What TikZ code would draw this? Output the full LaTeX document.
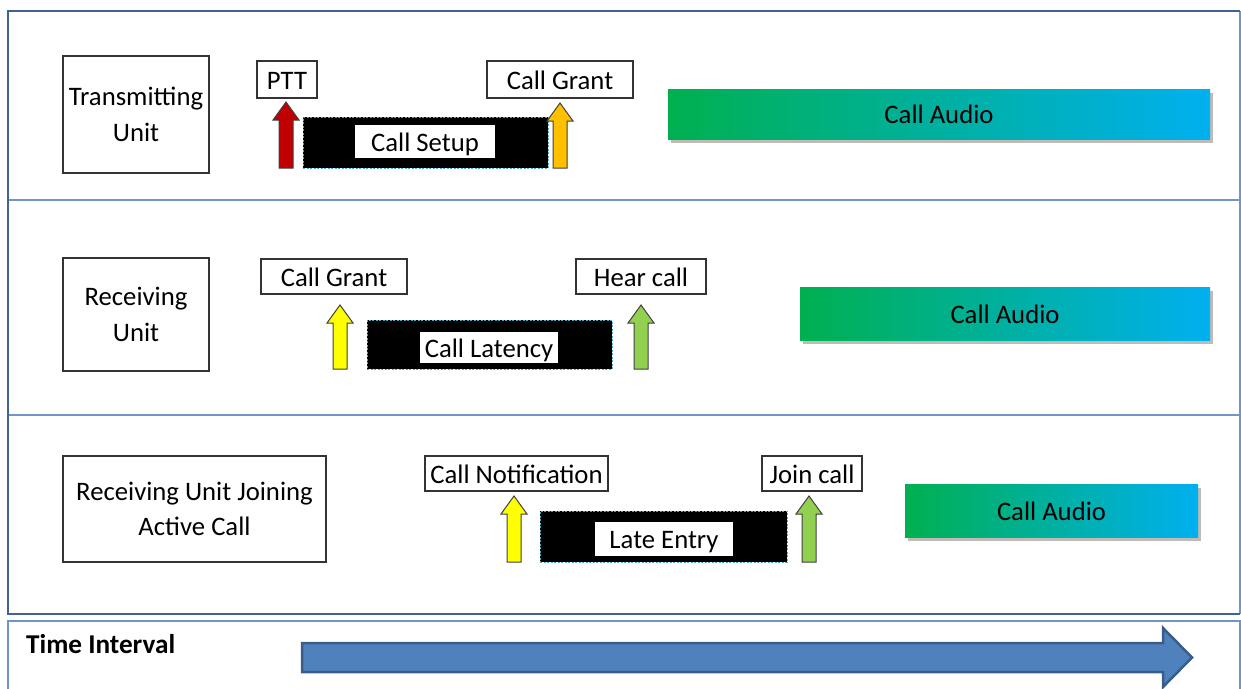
\documentclass[tikz,border=0pt]{standalone}
\usepackage{fontspec}
\setmainfont{Carlito}
\usetikzlibrary{shadows}
\definecolor{frameblue}{HTML}{3F6494}
\definecolor{lineblue}{HTML}{6F96C8}
\definecolor{arrfill}{HTML}{4F81BD}
\definecolor{arrdraw}{HTML}{385D8A}
\definecolor{caGreen}{HTML}{00B050}
\definecolor{caBlue}{HTML}{00B0F0}
\definecolor{pttred}{HTML}{C00000}
\definecolor{grantorange}{HTML}{FFC000}
\definecolor{grantyellow}{HTML}{FFFF00}
\definecolor{heargreen}{HTML}{92D050}
\definecolor{barborder}{HTML}{4BACC6}
\newcommand\blockup[4]{%
  \draw[arrline, fill=#4] (#1-7,#3) -- (#1-7,#2+18) -- (#1-13,#2+18) -- (#1,#2)
    -- (#1+13,#2+18) -- (#1+7,#2+18) -- (#1+7,#3) -- cycle;}
\begin{document}
\begin{tikzpicture}[x=1pt,y=-1pt,
  every node/.style={font=\fontsize{26.7}{35.5}\selectfont, text=black},
  oneline/.style={text height=19pt, text depth=0pt},
  unitbox/.style={draw=black!80, line width=1.2pt, fill=white, align=center, inner sep=0pt},
  lbl/.style={oneline, draw=black!80, line width=1.2pt, fill=white, inner sep=0pt},
  bar/.style={fill=black, draw=barborder, dash pattern=on 2pt off 1.5pt, line width=0.8pt, inner sep=0pt},
  inlbl/.style={oneline, fill=white, inner sep=0pt},
  audio/.style={oneline, left color=caGreen, right color=caBlue, inner sep=0pt,
    drop shadow={shadow xshift=3pt, shadow yshift=-4pt, opacity=0.35, fill=black!70!olive}},
  arrline/.style={draw=black!75, line width=1pt, line join=miter},
  frame/.style={draw=frameblue, line width=2.5pt},
  thinframe/.style={draw=lineblue, line width=1.2pt},
  divider/.style={draw=lineblue, line width=1.2pt},
  bigarrow/.style={fill=arrfill, draw=arrdraw, line width=2.5pt, line join=miter}]
\useasboundingbox (0,0) rectangle (1241,688);
% frames
\draw[divider] (8,200) -- (1240,200);
\draw[divider] (8,415) -- (1240,415);
\draw[thinframe] (1240,11) -- (1240,614);
\draw[frame] (1240,11) -- (8,11) -- (8,614) -- (1240,614);
\draw[draw=lineblue, line width=2.2pt] (8,700) -- (8,621) -- (1240,621) -- (1240,700);
% unit boxes
\node[unitbox, minimum width=146pt, minimum height=117pt] (tu) at (136,114.5) {Transmitting\\Unit};
\node[unitbox, minimum width=146pt, minimum height=113pt] (ru) at (136,314.5) {Receiving\\Unit};
\node[unitbox, minimum width=263pt, minimum height=106pt] (rj) at (194.5,509) {Receiving Unit Joining\\Active Call};
% row 1
\node[bar, minimum width=245pt, minimum height=51pt] (b1) at (425.5,142.5) {};
\node[inlbl, minimum width=140pt, minimum height=33pt] (s1) at (425,141.5) {Call Setup};
\node[lbl, minimum width=60pt, minimum height=37pt] (ptt) at (287,79.5) {PTT};
\node[lbl, minimum width=146pt, minimum height=37pt] (cg1) at (560,79.5) {Call Grant};
\blockup{286}{102}{168}{pttred}
\blockup{560}{103}{168}{grantorange}
\node[audio, minimum width=542pt, minimum height=50pt] (ca1) at (939,114) {Call Audio};
% row 2
\node[bar, minimum width=245pt, minimum height=49pt] (b2) at (489.5,344.5) {};
\node[inlbl, minimum width=138pt, minimum height=31pt] (s2) at (489,347.5) {Call Latency};
\node[lbl, minimum width=146pt, minimum height=35pt] (cg2) at (334,276.5) {Call Grant};
\node[lbl, minimum width=130pt, minimum height=35pt] (hc) at (641,276.5) {Hear call};
\blockup{340}{305}{369}{grantyellow}
\blockup{641}{305}{369}{heargreen}
\node[audio, minimum width=410pt, minimum height=53pt] (ca2) at (1005,313.5) {Call Audio};
% row 3
\node[bar, minimum width=247pt, minimum height=51pt] (b3) at (663.5,536.5) {};
\node[inlbl, minimum width=138pt, minimum height=34pt] (s3) at (664,539) {Late Entry};
\node[lbl, minimum width=183pt, minimum height=35pt] (cn) at (516.5,473.5) {Call Notification};
\node[lbl, minimum width=100pt, minimum height=35pt] (jc) at (812,473.5) {Join call};
\blockup{514}{496}{562}{grantyellow}
\blockup{809}{496}{562}{heargreen}
\node[audio, minimum width=293pt, minimum height=53pt] (ca3) at (1051.5,510.5) {Call Audio};
% time interval
\node[font=\bfseries\fontsize{27.2}{30}\selectfont, anchor=base west, inner sep=0pt] (ti) at (26,653) {Time Interval};
\draw[bigarrow] (302,643) -- (1163,643) -- (1163,628) -- (1192,657.5) -- (1163,687) -- (1163,672) -- (302,672) -- cycle;
\end{tikzpicture}
\end{document}
